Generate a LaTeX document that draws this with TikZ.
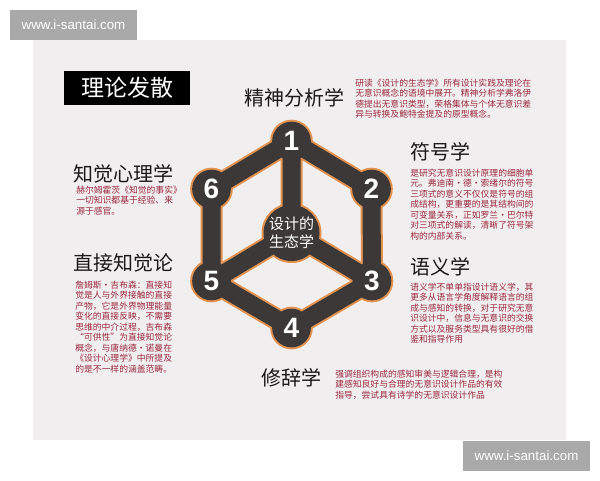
\documentclass[tikz,border=0pt]{standalone}
\usepackage{fontspec}
\setmainfont{Liberation Sans}
\newfontfamily\cjk{Noto Sans CJK SC}
\definecolor{panelgray}{RGB}{241,238,240}
\definecolor{markgray}{RGB}{169,169,169}
\definecolor{hubdark}{RGB}{60,56,56}
\definecolor{rimorange}{RGB}{226,146,78}
\definecolor{notered}{RGB}{155,40,60}
\definecolor{headblack}{RGB}{25,25,25}
\tikzset{
  heading/.style={font=\cjk\fontsize{15}{18}\selectfont, text=headblack, inner sep=0},
  note/.style={font=\cjk\fontsize{6.6}{7.9}\selectfont, text=notered, align=left, anchor=north west, inner sep=0},
  rimbar/.style={line width=16.5pt, draw=rimorange, line join=round},
  hubbar/.style={line width=13.5pt, draw=hubdark, line join=round},
  rimball/.style={circle, fill=rimorange, minimum size=32pt, inner sep=0},
  ball/.style={circle, fill=hubdark, minimum size=29pt, inner sep=0, text=white, font=\bfseries\fontsize{21}{21}\selectfont},
  watermark/.style={fill=markgray, text=white, font=\fontsize{10}{12}\selectfont, minimum width=95.25pt, minimum height=22.5pt, inner sep=0}
}
\begin{document}
\begin{tikzpicture}[x=0.75pt,y=-0.75pt]
	\useasboundingbox (0,0) rectangle (600,480);
	\fill [panelgray] (33,40) rectangle (566,440);
	\node [watermark] (mark1) at (73.5,25) {www.i-santai.com};
	\node [watermark] (mark2) at (526.5,455.5) {www.i-santai.com};
	\node [fill=black, text=white, font=\cjk\fontsize{17.25}{20}\selectfont, minimum width=94.5pt, minimum height=25.5pt, inner sep=0] (title) at (127,88) {理论发散};
	\coordinate (c1) at (291.5,141);
	\coordinate (c2) at (371.5,189);
	\coordinate (c3) at (372,281);
	\coordinate (c4) at (291.5,328);
	\coordinate (c5) at (211.5,281);
	\coordinate (c6) at (211.5,189);
	\coordinate (c0) at (291.5,233);
	\draw [rimbar] (c1) -- (c2) -- (c3) -- (c4) -- (c5) -- (c6) -- cycle;
	\draw [rimbar] (c1) -- (c0) -- (c3) (c0) -- (c5);
	\node [rimball] (r1) at (c1) {};
	\node [rimball] (r2) at (c2) {};
	\node [rimball] (r3) at (c3) {};
	\node [rimball] (r4) at (c4) {};
	\node [rimball] (r5) at (c5) {};
	\node [rimball] (r6) at (c6) {};
	\node [rimball, minimum size=45pt] (r0) at (c0) {};
	\draw [hubbar] (c1) -- (c2) -- (c3) -- (c4) -- (c5) -- (c6) -- cycle;
	\draw [hubbar] (c1) -- (c0) -- (c3) (c0) -- (c5);
	\node [ball] (n1) at (c1) {1};
	\node [ball] (n2) at (c2) {2};
	\node [ball] (n3) at (c3) {3};
	\node [ball] (n4) at (c4) {4};
	\node [ball] (n5) at (c5) {5};
	\node [ball] (n6) at (c6) {6};
	\node [ball, minimum size=42pt, align=center, font=\cjk\fontsize{11.25}{13.5}\selectfont] (hub) at (c0) {设计的\\生态学};
	\node [heading] (psy) at (294,98) {精神分析学};
	\node [heading, anchor=west] (sign) at (410,152) {符号学};
	\node [heading, anchor=west] (sem) at (410,267) {语义学};
	\node [heading] (rhet) at (291,378) {修辞学};
	\node [heading, anchor=west] (perc) at (73,174) {知觉心理学};
	\node [heading, anchor=west] (direct) at (73,263) {直接知觉论};
	\node [note] (psynote) at (355,78.5) {研读《设计的生态学》所有设计实践及理论在\\无意识概念的语境中展开。精神分析学弗洛伊\\德提出无意识类型，荣格集体与个体无意识差\\异与转换及鲍特金提及的原型概念。};
	\node [note] (signnote) at (410,168.5) {是研究无意识设计原理的细胞单\\元。弗迪南·德·索绪尔的符号\\三项式的意义不仅仅是符号的组\\成结构，更重要的是其结构间的\\可变量关系，正如罗兰·巴尔特\\对三项式的解读，清晰了符号架\\构的内部关系。};
	\node [note] (semnote) at (410,282.5) {语义学不单单指设计语义学，其\\更多从语言学角度解释语言的组\\成与感知的转换，对于研究无意\\识设计中，信息与无意识的交换\\方式以及服务类型具有很好的借\\鉴和指导作用};
	\node [note] (percnote) at (76,185.5) {赫尔姆霍茨《知觉的事实》\\一切知识都基于经验、来\\源于感官。};
	\node [note] (directnote) at (75,280.5) {詹姆斯·吉布森：直接知\\觉是人与外界接触的直接\\产物，它是外界物理能量\\变化的直接反映，不需要\\思维的中介过程，吉布森\\“可供性”为直接知觉论\\概念，与唐纳德·诺曼在\\《设计心理学》中所提及\\的是不一样的涵盖范畴。};
	\node [note] (rhetnote) at (335,369.5) {强调组织构成的感知审美与逻辑合理，是构\\建感知良好与合理的无意识设计作品的有效\\指导，尝试具有诗学的无意识设计作品};
\end{tikzpicture}
\end{document}
